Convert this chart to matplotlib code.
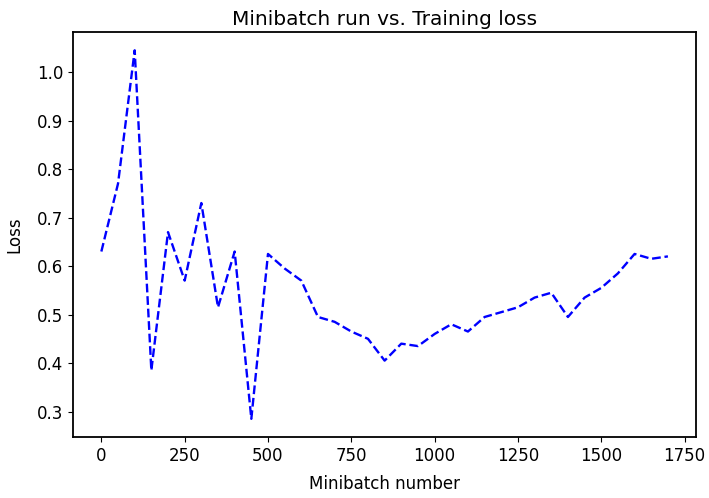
import matplotlib
matplotlib.use('Agg')
import matplotlib.pyplot as plt

# minibatch index and training loss
minibatch = list(range(0, 1701, 50))
loss = [0.63, 0.77, 1.045, 0.385, 0.67, 0.57, 0.73, 0.515, 0.63, 0.285,
        0.625, 0.595, 0.57, 0.495, 0.485, 0.465, 0.45, 0.405, 0.44, 0.435,
        0.46, 0.48, 0.465, 0.495, 0.505, 0.515, 0.535, 0.545, 0.495, 0.535,
        0.555, 0.585, 0.625, 0.615, 0.62]

plt.rcParams['font.size'] = 12
plt.rcParams['axes.linewidth'] = 1.3

fig = plt.figure(figsize=(7.09, 4.98), dpi=100)
ax = fig.add_axes([0.103, 0.122, 0.879, 0.814])

ax.plot(minibatch, loss, 'b--', linewidth=1.7)
ax.set_xticks([0, 250, 500, 750, 1000, 1250, 1500, 1750])
ax.set_xlabel('Minibatch number', labelpad=7)
ax.set_ylabel('Loss', labelpad=10)
ax.set_title('Minibatch run vs. Training loss', fontsize=14.5, pad=5)

fig.savefig('out.png', dpi=100)
